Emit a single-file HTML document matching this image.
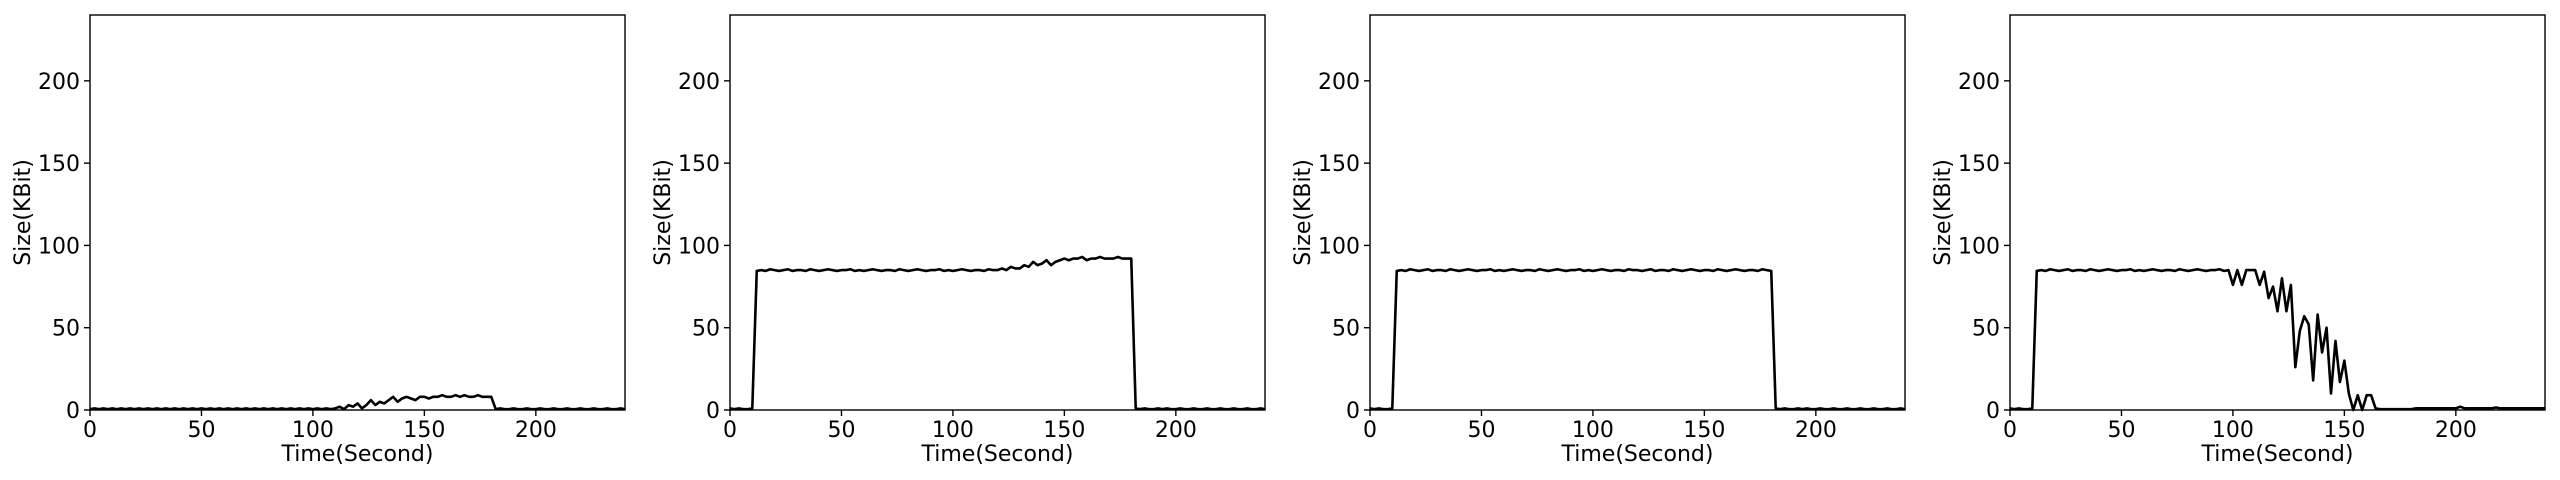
<!DOCTYPE html>
<html><head><meta charset="utf-8"><style>
html,body{margin:0;padding:0;background:#fff;}
svg{display:block;}
text{font-family:"DejaVu Sans","Liberation Sans",sans-serif;fill:#000;}
</style></head><body>
<svg id="fig" width="2560" height="480" viewBox="0 0 2560 480" xmlns="http://www.w3.org/2000/svg"></svg>
<script>
const xTicks = [0, 50, 100, 150, 200];
const yTicks = [0, 50, 100, 150, 200];
const xDomain = [0, 240];
const yDomain = [0, 240];
const timeStep = 2;
const series1 = [0.5,1,0.5,1,0.5,1,0.5,1,0.5,1,0.5,1,0.5,1,0.5,1,0.5,1,0.5,1,0.5,1,0.5,1,0.5,1,0.5,1,0.5,1,0.5,1,0.5,1,0.5,1,0.5,1,0.5,1,0.5,1,0.5,1,0.5,1,0.5,1,0.5,1,0.5,1,0.5,1,0.5,
 1,2,0.5,3,2,4,1,3,
 6,3,5,4,6,8,5,7,8,7,6,8,
 8,7,8,8,9,8,8,9,8,9,8,8,9,8,8,8,
 0.5,1,0.5,0.5,1,0.5,0.5,1,0.5,0.5,1,0.5,0.5,1,0.5,0.5,1,0.5,0.5,1,0.5,0.5,1,0.5,0.5,1,0.5,0.5,1,0.5];
const series2 = [1,0.5,1,0.5,0.5,1,
 84.5,85,84.5,85.5,85,84.5,85,85.5,84.5,85,85,84.5,85.5,85,84.5,85,85.5,85,84.5,85,85,85.5,84.5,85,84.5,85,85.5,85,84.5,85,85,84.5,85.5,85,84.5,85,85.5,85,84.5,85,85,85.5,84.5,85,84.5,85,85.5,85,84.5,85,85,84.5,85.5,85,
 85,86,85,87,86,86,88,87,90,88,89,91,88,90,91,
 92,91,92,92,93,91,92,92,93,92,92,92,93,92,92,92,
 1,0.5,1,0.5,0.5,1,0.5,1,0.5,0.5,1,0.5,0.5,1,0.5,0.5,1,0.5,0.5,1,0.5,0.5,1,0.5,0.5,1,0.5,0.5,1,0.5];
const series3 = [1,0.5,1,0.5,0.5,1,
 84.5,85,84.5,85.5,85,84.5,85,85.5,84.5,85,85,84.5,85.5,85,84.5,85,85.5,85,84.5,85,85,85.5,84.5,85,84.5,85,85.5,85,84.5,85,85,84.5,85.5,85,84.5,85,85.5,85,84.5,85,85,85.5,84.5,85,84.5,85,85.5,85,84.5,85,85,84.5,85.5,85,
 85,84.5,85,85.5,84.5,85,85,84.5,85.5,85,84.5,85,85.5,85,84.5,85,85,84.5,85.5,85,84.5,85,85.5,85,84.5,85,85,84.5,85.5,85,84.5,
 1,0.5,1,0.5,0.5,1,0.5,1,0.5,0.5,1,0.5,0.5,1,0.5,0.5,1,0.5,0.5,1,0.5,0.5,1,0.5,0.5,1,0.5,0.5,1,0.5];
const series4 = [1,0.5,1,0.5,0.5,1,
 84.5,85,84.5,85.5,85,84.5,85,85.5,84.5,85,85,84.5,85.5,85,84.5,85,85.5,85,84.5,85,85,85.5,84.5,85,84.5,85,85.5,85,84.5,85,85,84.5,85.5,85,84.5,85,85.5,85,84.5,85,85,85.5,84.5,
 85,76,85,76,85,85,85,76,84,68,75,60,80,60,76,26,48,57,52,18,58,35,50,10,42,17,30,
 10,0,9,0,9,9,1,
 0.5,0.5,0.5,0.5,0.5,0.5,0.5,0.5,1,1,1,1,1,1,1,1,1,1,2,1,1,1,1,1,1,1,1.5,1,1,1,1,1,1,1,1,1,1,1];
const allSeries = [series1, series2, series3, series4];

const NS = "http://www.w3.org/2000/svg";
const svg = document.getElementById('fig');
function mk(tag, attrs, parent){ const e=document.createElementNS(NS,tag); for(const k in attrs) e.setAttribute(k,attrs[k]); parent.appendChild(e); return e; }

allSeries.forEach((data, p) => {
  const L = 90 + 640*p, R = L + 535, T = 15, B = 410;
  const xs = v => L + (v - xDomain[0])/(xDomain[1]-xDomain[0])*(R-L);
  const ys = v => B - (v - yDomain[0])/(yDomain[1]-yDomain[0])*(B-T);
  const g = mk('g', {}, svg);
  
  
  let d = '';
  data.forEach((v,i) => { d += (i?'L':'M') + xs(i*timeStep).toFixed(2) + ',' + ys(v).toFixed(2); });
  const line = mk('path', {d:d, fill:'none', stroke:'#000', 'stroke-width':2.6, 'stroke-linejoin':'round'}, g);
  
  
  const frame = mk('rect', {x:L, y:T, width:R-L, height:B-T, fill:'none', stroke:'#000', 'stroke-width':1.4}, g);
  
  
  xTicks.forEach(t => {
    const x = xs(t);
    mk('line', {x1:x, x2:x, y1:B, y2:B+6, stroke:'#000', 'stroke-width':1.4}, g);
    const tx = mk('text', {x:x, y:B+27, 'font-size':22, 'text-anchor':'middle'}, g);
    tx.textContent = t;
    
    
  });
  yTicks.forEach(t => {
    const y = ys(t);
    mk('line', {x1:L-6, x2:L, y1:y, y2:y, stroke:'#000', 'stroke-width':1.4}, g);
    const tx = mk('text', {x:L-10, y:y+8, 'font-size':22, 'text-anchor':'end'}, g);
    tx.textContent = t;
    
    
  });
  const xt = mk('text', {x:(L+R)/2, y:461, 'font-size':22, 'text-anchor':'middle'}, g);
  xt.textContent = 'Time(Second)';
  
  
  const yt = mk('text', {x:0, y:0, 'font-size':22, 'text-anchor':'middle', transform:'translate('+(L-60)+','+((T+B)/2)+') rotate(-90)'}, g);
  yt.textContent = 'Size(KBit)';
  
  
});
</script>
</body></html>
